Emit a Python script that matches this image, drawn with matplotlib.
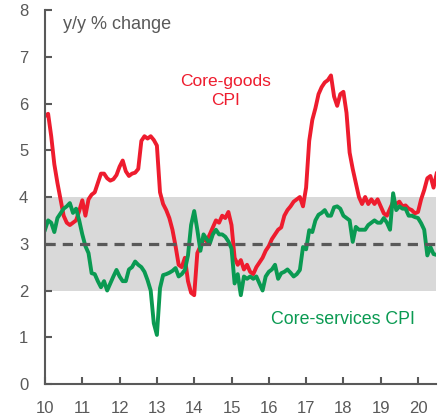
import matplotlib
matplotlib.use("Agg")
import matplotlib.pyplot as plt
import numpy as np

plt.rcParams['font.family'] = ['Liberation Sans', 'DejaVu Sans']

start_year = 10  # 2010, monthly data from Jan
core_goods = [5.73, 5.78, 5.3, 4.7, 4.3, 3.95, 3.6, 3.45, 3.4, 3.45, 3.5, 3.7,
              3.93, 3.6, 3.95, 4.05, 4.1, 4.3, 4.5, 4.5, 4.4, 4.35, 4.38, 4.47,
              4.65, 4.78, 4.55, 4.45, 4.5, 4.52, 4.6, 5.2, 5.3, 5.25, 5.3, 5.22,
              5.1, 4.1, 3.85, 3.72, 3.55, 3.3, 2.95, 2.55, 2.5, 2.7, 2.2, 1.95,
              1.9, 2.8, 2.95, 3.1, 3.05, 3.2, 3.35, 3.5, 3.45, 3.6, 3.55, 3.68,
              3.4, 2.7, 2.55, 2.65, 2.45, 2.55, 2.4, 2.35, 2.5, 2.6, 2.7, 2.85,
              2.95, 3.1, 3.2, 3.3, 3.35, 3.6, 3.72, 3.8, 3.9, 3.95, 4.0, 3.8,
              4.2, 5.2, 5.65, 5.9, 6.2, 6.35, 6.45, 6.5, 6.6, 6.15, 5.95, 6.2,
              6.25, 5.8, 4.95, 4.6, 4.3, 4.0, 3.85, 4.0, 3.85, 3.95, 3.85, 3.95,
              3.8, 3.65, 3.6, 3.75, 3.9, 3.85, 3.9, 3.8, 3.82, 3.75, 3.72, 3.65,
              3.68, 3.95, 4.15, 4.4, 4.45, 4.2, 4.5]
core_services = [3.3, 3.5, 3.45, 3.25, 3.55, 3.65, 3.75, 3.8, 3.87, 3.66, 3.75, 3.5,
                 3.2, 2.95, 2.8, 2.37, 2.35, 2.2, 2.07, 2.2, 2.0, 2.15, 2.3, 2.44,
                 2.3, 2.2, 2.2, 2.45, 2.5, 2.62, 2.55, 2.5, 2.4, 2.22, 2.0, 1.3,
                 1.05, 2.05, 2.33, 2.35, 2.38, 2.42, 2.48, 2.3, 2.35, 2.44, 2.75, 3.4,
                 3.7, 3.3, 2.85, 3.2, 3.1, 3.0, 3.2, 3.3, 3.2, 3.2, 3.15, 3.05,
                 2.9, 2.15, 2.35, 1.9, 2.3, 2.25, 2.3, 2.25, 2.3, 2.15, 2.0, 2.3,
                 2.4, 2.45, 2.55, 2.25, 2.37, 2.4, 2.45, 2.38, 2.3, 2.35, 2.44, 2.93,
                 2.88, 3.29, 3.25, 3.5, 3.62, 3.66, 3.72, 3.6, 3.6, 3.78, 3.8, 3.75,
                 3.6, 3.55, 3.5, 3.04, 3.36, 3.3, 3.3, 3.3, 3.4, 3.45, 3.5, 3.45,
                 3.45, 3.55, 3.45, 3.3, 4.08, 3.72, 3.8, 3.75, 3.75, 3.6, 3.6, 3.57,
                 3.55, 3.44, 3.3, 2.75, 2.93, 2.78, 2.76]
band_low, band_high = 2, 4
target = 3
y_ticks = [0, 1, 2, 3, 4, 5, 6, 7, 8]
x_ticks = [10, 11, 12, 13, 14, 15, 16, 17, 18, 19, 20]

red = '#EE1C2E'
green = '#0A9A52'
gray = '#595959'

fig = plt.figure(figsize=(4.38, 4.15), dpi=100)
ax = fig.add_axes([45/438, 1-384/415, 391/438, 374/415])

xg = start_year + np.arange(len(core_goods)) / 12
xs = start_year + np.arange(len(core_services)) / 12

ax.axhspan(band_low, band_high, color='#D9D9D9', lw=0, zorder=0)
ax.axhline(target, color=gray, lw=2.3, ls=(0, (3.2, 2.2)), zorder=3)
ax.plot(xg, core_goods, color=red, lw=2.8, zorder=2, solid_joinstyle='round')
ax.plot(xs, core_services, color=green, lw=2.8, zorder=2, solid_joinstyle='round')

ax.set_xlim(10, 10 + 391/37.3)
ax.set_ylim(0, 8)
ax.set_yticks(y_ticks)
ax.set_xticks(x_ticks)
ax.set_xticklabels([str(t) for t in x_ticks])

for s in ['top', 'right']:
    ax.spines[s].set_visible(False)
for s in ['left', 'bottom']:
    ax.spines[s].set_color(gray)
    ax.spines[s].set_linewidth(1.5)
ax.tick_params(direction='in', length=5, width=1.5, color=gray,
               labelcolor=gray, labelsize=12)
ax.tick_params(axis='y', pad=12)
ax.tick_params(axis='x', pad=12)

ax.text(0.045, 0.985, 'y/y % change', transform=ax.transAxes, color=gray,
        fontsize=13, va='top', ha='left')
ax.text(14.85, 6.27, 'Core-goods\nCPI', color=red, fontsize=12.5, ha='center',
        va='center', linespacing=1.3)
ax.text(18.0, 1.37, 'Core-services CPI', color=green, fontsize=12.8,
        ha='center', va='center')

fig.savefig('out.png', dpi=100)
